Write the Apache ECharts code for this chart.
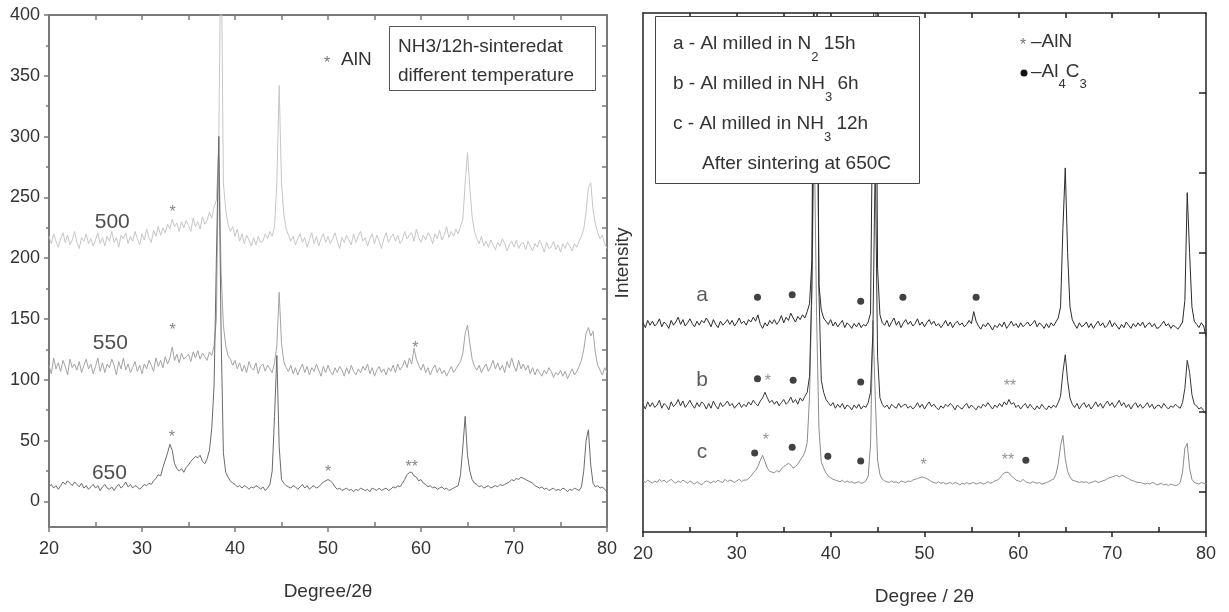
<!DOCTYPE html>
<html><head><meta charset="utf-8">
<script src="https://cdn.jsdelivr.net/npm/echarts@6/dist/echarts.min.js"></script>
<style>html,body{margin:0;padding:0;background:#fff}#c{width:1229px;height:612px}</style>
</head><body><div id="c"></div>
<script>
// 2θ sampling: 20..80 in 0.25° steps (241 points)
const thetaStart = 20, thetaStep = 0.25;

// Left panel: NH3/12h sintered at different temperature
const s500 = [
218,212,220,214, 209,216,221,213, 219,211,215,222, 213,208,217,214, 220,212,216,210,
215,221,212,217, 210,218,214,222, 213,217,209,219, 216,221,212,218, 214,222,216,211,
220,215,224,217, 213,223,218,226, 219,225,221,228, 224,232,226,229, 222,230,225,231,
227,222,233,226, 230,224,234,228, 231,238,233,242, 248,290,480,262, 240,228,222,226,
218,224,214,220, 212,219,215,210, 217,211,218,213, 214,220,216,222, 218,226,262,342,
262,236,224,219, 214,218,211,216, 220,213,217,209, 215,221,212,218, 210,216,220,213,
218,212,216,221, 214,208,217,213, 219,215,211,220, 213,218,222,214, 217,210,216,220,
212,219,214,208, 216,221,213,217, 220,214,219,212, 215,222,216,219, 221,214,224,217,
213,219,215,221, 218,212,220,216, 223,215,219,226, 217,222,218,224, 220,226,232,262,
287,258,234,222, 216,212,218,210, 214,209,215,211, 207,213,210,216, 212,206,211,214,
209,215,208,212, 213,207,214,210, 206,212,209,215, 211,205,213,208, 209,214,207,211,
205,212,208,213, 210,206,212,209, 214,218,224,238, 258,262,240,228, 221,216,219,212,
208];
const s550 = [
112,105,118,109, 114,107,116,111, 104,117,110,113, 108,115,106,112, 117,109,113,105,
111,118,107,114, 106,113,110,117, 112,104,115,109, 118,108,113,106, 110,115,107,112,
105,113,109,116, 112,107,118,111, 116,110,119,113, 118,127,116,121, 114,122,117,119,
121,115,123,118, 124,117,122,119, 116,123,120,128, 150,300,190,145, 128,120,117,112,
116,109,114,107, 112,106,115,110, 108,114,105,111, 113,107,112,109, 106,114,128,172,
130,115,110,107, 112,105,110,104, 109,113,106,111, 104,110,107,113, 108,103,111,106,
112,107,104,110, 106,111,108,103, 110,105,112,107, 104,109,106,111, 108,113,105,110,
103,108,111,106, 109,104,110,107, 112,106,113,108, 111,116,110,118, 113,126,117,112,
108,113,106,110, 104,109,112,106, 110,105,108,103, 107,111,106,109, 112,115,122,138,
145,130,117,111, 108,112,106,110, 113,107,111,116, 109,114,108,112, 106,115,110,118,
111,107,116,109, 113,108,112,105, 110,104,109,106, 103,108,105,110, 107,102,106,104,
108,103,107,101, 105,109,104,107, 111,116,125,138, 143,136,140,122, 112,108,104,110,
106];
const s650 = [
12,14,11,13, 10,13,16,14, 17,15,13,16, 14,12,15,11, 13,10,12,14,
11,13,9,12, 14,11,10,12, 9,12,14,11, 13,16,12,14, 11,13,12,10,
12,14,13,15, 14,17,19,22, 21,28,34,40, 47,42,31,27, 25,27,24,28,
30,33,35,37, 36,38,33,31, 35,42,60,95, 200,300,140,40, 24,20,17,15,
14,12,13,11, 13,12,10,12, 11,13,12,10, 12,9,11,14, 25,70,120,45,
18,15,13,12, 11,13,12,10, 12,14,11,13, 10,12,13,11, 12,14,16,17,
18,17,15,12, 10,11,9,10, 11,9,10,8, 10,9,11,10, 9,10,8,11,
10,9,11,9, 10,11,9,10, 12,11,13,12, 15,18,22,24, 24,21,20,17,
18,15,14,12, 13,11,12,10, 11,12,10,11, 9,10,11,12, 13,22,45,70,
38,25,18,15, 14,12,13,11, 12,13,11,12, 13,12,14,13, 14,15,16,18,
17,19,18,20, 19,18,17,16, 15,13,12,11, 12,10,11,9, 10,11,9,10,
9,11,10,8, 10,9,11,10, 9,12,25,50, 59,30,15,12, 13,11,12,10,
8];

// Right panel: a, b, c after sintering at 650C (arbitrary intensity)
const sA = [
212,206,215,209, 214,208,211,217, 207,213,210,205, 215,209,213,219, 210,216,208,212,
217,211,207,214, 209,215,212,218, 213,207,216,210, 206,214,209,212, 216,210,215,208,
212,218,211,214, 209,216,213,219, 214,222,210,205, 212,208,215,211, 216,210,214,221,
212,219,215,224, 218,213,220,216, 222,218,226,236, 290,760,700,260, 228,218,214,210,
216,208,213,207, 211,215,206,212, 209,205,211,207, 212,206,210,208, 213,224,520,760,
280,222,212,209, 215,207,213,218, 209,214,206,212, 216,210,214,208, 211,217,209,213,
207,212,216,210, 214,208,211,206, 210,215,208,213, 206,211,214,209, 212,207,210,215,
211,226,214,208, 204,210,207,212, 208,203,209,206, 211,207,213,205, 209,214,208,211,
206,212,207,210, 213,208,211,215, 207,212,209,205, 211,206,212,208, 213,218,232,330,
406,300,232,216, 210,205,212,207, 209,213,206,211, 205,210,214,208, 212,206,209,215,
207,212,208,204, 210,206,213,209, 205,211,207,212, 208,213,206,210, 212,207,211,205,
206,210,214,208, 211,205,209,207, 204,208,213,240, 375,300,232,214, 210,206,212,208,
195];
const sB = [
110,104,113,107, 112,106,109,115, 105,111,108,103, 113,107,110,116, 108,114,106,110,
115,109,105,112, 107,113,110,104, 111,105,114,108, 104,112,107,110, 114,108,111,105,
109,112,106,110, 107,113,109,115, 111,108,114,118, 125,118,112,115, 110,114,108,112,
116,110,113,119, 112,116,110,118, 114,120,125,145, 260,600,650,250, 140,125,116,112,
108,112,105,110, 106,111,104,109, 107,103,109,105, 110,104,108,106, 112,125,200,420,
170,118,110,106, 109,104,110,107, 105,111,106,109, 110,105,108,104, 107,112,106,110,
104,109,113,107, 110,106,103,108, 105,110,107,111, 108,103,109,106, 104,108,111,105,
109,106,103,108, 105,110,107,112, 108,104,109,106, 111,107,113,109, 116,110,112,106,
109,104,108,111, 105,110,106,103, 108,104,110,106, 103,108,105,109, 106,112,120,150,
172,140,118,110, 106,111,104,109, 112,106,110,104, 108,113,107,111, 105,110,114,108,
112,106,110,115, 108,112,106,110, 104,109,112,106, 110,105,108,112, 106,110,104,108,
109,105,111,107, 104,108,106,110, 107,105,112,130, 165,150,122,110, 108,104,106,102,
98];
const sC = [
14,12,15,13, 11,14,12,16, 13,15,12,14, 16,13,11,14, 12,15,13,11,
14,12,10,13, 11,9,12,14, 13,11,14,12, 15,13,12,16, 13,15,14,12,
14,16,13,15, 15,17,20,24, 27,32,40,46, 38,30,26,25, 24,27,25,29,
32,34,36,34, 30,32,35,40, 44,50,62,120, 250,450,220,80, 38,30,24,20,
18,16,15,14, 13,15,12,14, 12,13,11,12, 13,11,12,14, 20,60,215,120,
40,22,16,14, 13,12,14,12, 13,11,14,13, 12,14,13,15, 16,17,18,19,
18,17,15,13, 12,11,13,11, 12,10,11,12, 10,12,11,9, 11,10,12,10,
11,12,10,11, 12,10,11,13, 11,12,14,15, 17,21,24,25, 24,20,18,15,
14,13,16,13, 12,11,13,12, 11,12,10,11, 12,13,15,16, 22,35,58,71,
42,26,19,15, 14,13,12,13, 12,13,11,12, 13,14,12,13, 14,15,17,18,
19,20,21,19, 21,20,18,17, 15,14,13,12, 12,11,10,11, 10,12,11,9,
10,11,9,10, 8,10,9,8, 9,12,25,55, 61,30,16,12, 11,10,12,11,
10];

// Sample tags (left panel)
const leftTags = ['500', '550', '650'];
const leftTagX = [26.8, 26.6, 26.5];
const leftTagY = [230, 130.5, 23.5];
// AlN markers (left panel)
const leftStarX = [33.3, 33.3, 33.2, 59.4, 50.0, 59.0];
const leftStarY = [242, 145, 57, 130, 27.5, 32];
const leftStarText = ['*', '*', '*', '*', '*', '**'];

// Right panel tags and markers
const rightTags = ['a', 'b', 'c'];
const rightTagX = [26.3, 26.3, 26.3];
const rightTagY = [247, 140, 50];
const dotX = [32.2, 35.9, 43.2, 47.7, 55.5, 32.2, 36.0, 43.2, 31.9, 35.9, 39.7, 43.2, 60.8];
const dotY = [244, 247, 239, 244, 244, 142, 140, 138, 49, 56, 45, 39, 40];
const rightStarX = [33.3, 59.1, 33.1, 49.9, 58.9];
const rightStarY = [145, 138, 71, 40, 46];
const rightStarText = ['*', '**', '*', '*', '**'];

// Tick values
const xMinor = [25, 35, 45, 55, 65, 75];
const xTop = [25, 30, 35, 40, 45, 50, 55, 60, 65, 70, 75];
const leftYTicks = [0, 50, 100, 150, 200, 250, 300, 350, 400];
const leftYMinor = [25, 75, 125, 175, 225, 275, 325, 375];
const leftYRight = [0, 25, 50, 75, 100, 125, 150, 175, 200, 225, 250, 275, 300, 325, 350, 375];
const rightYTicks = [0, 100, 200, 300, 400, 500];

const pairs = arr => arr.map((v, i) => [thetaStart + i * thetaStep, v]);
const zip = (xs, ys) => xs.map((x, i) => [x, ys[i]]);

const FONT = 'Liberation Sans, Arial, sans-serif';
const LAX = '#7a7a7a', RAX = '#222';

function xAxes(grid, col, w, name) {
  return [
    {gridIndex: grid, type: 'value', min: 20, max: 80, interval: 10, position: 'bottom',
     axisLine: {show: true, onZero: false, lineStyle: {color: col, width: w}},
     axisTick: {show: true, length: 5, lineStyle: {color: col, width: 1.5}},
     axisLabel: {fontSize: 18, color: '#333', margin: 13, fontFamily: FONT},
     splitLine: {show: false},
     name: name, nameLocation: 'middle', nameGap: 55,
     nameTextStyle: {fontSize: 19, color: '#333', fontFamily: FONT}},
    {gridIndex: grid, type: 'value', min: 20, max: 80, position: 'bottom', offset: 0,
     axisLine: {show: false, onZero: false}, axisLabel: {show: false}, splitLine: {show: false},
     axisTick: {show: true, inside: true, length: 5, customValues: xMinor, lineStyle: {color: col, width: 1.5}}},
    {gridIndex: grid, type: 'value', min: 20, max: 80, position: 'top', offset: 0,
     axisLine: {show: true, onZero: false, lineStyle: {color: col, width: w}}, axisLabel: {show: false}, splitLine: {show: false},
     axisTick: {show: true, inside: true, length: 5, customValues: xTop, lineStyle: {color: col, width: 1.5}}}
  ];
}

const option = {
  animation: false,
  backgroundColor: '#fff',
  grid: [
    {left: 49, right: 622, top: 15, bottom: 85, outerBoundsMode: 'none', containLabel: false},
    {left: 643, right: 23, top: 13, bottom: 80, outerBoundsMode: 'none', containLabel: false}
  ],
  xAxis: [...xAxes(0, LAX, 2, 'Degree/2θ'), ...xAxes(1, RAX, 1.5, 'Degree / 2θ')],
  yAxis: [
    {gridIndex: 0, type: 'value', min: -21, max: 400, position: 'left',
     axisLine: {show: true, onZero: false, lineStyle: {color: LAX, width: 2}},
     axisTick: {show: true, length: 5, customValues: leftYTicks, lineStyle: {color: LAX, width: 1.5}},
     axisLabel: {show: true, customValues: leftYTicks, fontSize: 18, color: '#333', margin: 9, fontFamily: FONT},
     splitLine: {show: false}},
    {gridIndex: 0, type: 'value', min: -21, max: 400, position: 'left', offset: 0,
     axisLine: {show: false, onZero: false}, axisLabel: {show: false}, splitLine: {show: false},
     axisTick: {show: true, length: 3, customValues: leftYMinor, lineStyle: {color: LAX, width: 1.5}}},
    {gridIndex: 0, type: 'value', min: -21, max: 400, position: 'right', offset: 0,
     axisLine: {show: true, onZero: false, lineStyle: {color: LAX, width: 2}}, axisLabel: {show: false}, splitLine: {show: false},
     axisTick: {show: true, inside: true, length: 5, customValues: leftYRight, lineStyle: {color: LAX, width: 1.5}}},
    {gridIndex: 1, type: 'value', min: -50, max: 600, position: 'left',
     axisLine: {show: true, onZero: false, lineStyle: {color: RAX, width: 1.5}}, axisTick: {show: false},
     axisLabel: {show: false}, splitLine: {show: false}},
    {gridIndex: 1, type: 'value', min: -50, max: 600, position: 'right', offset: 0,
     axisLine: {show: true, onZero: false, lineStyle: {color: RAX, width: 1.5}}, axisLabel: {show: false}, splitLine: {show: false},
     axisTick: {show: true, inside: true, length: 7, customValues: rightYTicks, lineStyle: {color: RAX, width: 1.5}}}
  ],
  series: [
    {type: 'line', name: '500', xAxisIndex: 0, yAxisIndex: 0, data: pairs(s500), showSymbol: false,
     lineStyle: {color: '#c6c6c6', width: 1}, z: 2},
    {type: 'line', name: '550', xAxisIndex: 0, yAxisIndex: 0, data: pairs(s550), showSymbol: false,
     lineStyle: {color: '#a4a4a4', width: 1}, z: 3},
    {type: 'line', name: '650', xAxisIndex: 0, yAxisIndex: 0, data: pairs(s650), showSymbol: false,
     lineStyle: {color: '#6a6a6a', width: 1}, z: 4},
    {type: 'line', name: 'a', xAxisIndex: 3, yAxisIndex: 3, data: pairs(sA), showSymbol: false,
     lineStyle: {color: '#2a2a2a', width: 1}, z: 4},
    {type: 'line', name: 'b', xAxisIndex: 3, yAxisIndex: 3, data: pairs(sB), showSymbol: false,
     lineStyle: {color: '#363636', width: 1}, z: 3},
    {type: 'line', name: 'c', xAxisIndex: 3, yAxisIndex: 3, data: pairs(sC), showSymbol: false,
     lineStyle: {color: '#8c8c8c', width: 1}, z: 2},
    {type: 'scatter', xAxisIndex: 0, yAxisIndex: 0, symbolSize: 1, itemStyle: {color: 'rgba(0,0,0,0)'},
     data: zip(leftTagX, leftTagY).map((p, i) => ({value: p, name: leftTags[i]})),
     label: {show: true, position: 'inside', formatter: p => p.name, fontSize: 21, color: '#222', fontFamily: FONT}, z: 6},
    {type: 'scatter', xAxisIndex: 0, yAxisIndex: 0, symbolSize: 1, itemStyle: {color: 'rgba(0,0,0,0)'},
     data: zip(leftStarX, leftStarY).map((p, i) => ({value: p, name: leftStarText[i]})),
     label: {show: true, position: 'inside', formatter: p => p.name, fontSize: 16, color: '#666', offset: [0, 5], fontFamily: FONT}, z: 6},
    {type: 'scatter', xAxisIndex: 3, yAxisIndex: 3, symbolSize: 1, itemStyle: {color: 'rgba(0,0,0,0)'},
     data: zip(rightTagX, rightTagY).map((p, i) => ({value: p, name: rightTags[i]})),
     label: {show: true, position: 'inside', formatter: p => p.name, fontSize: 21, color: '#333', fontFamily: FONT}, z: 6},
    {type: 'scatter', xAxisIndex: 3, yAxisIndex: 3, symbol: 'circle', symbolSize: 7,
     itemStyle: {color: '#111'}, data: zip(dotX, dotY), z: 6},
    {type: 'scatter', xAxisIndex: 3, yAxisIndex: 3, symbolSize: 1, itemStyle: {color: 'rgba(0,0,0,0)'},
     data: zip(rightStarX, rightStarY).map((p, i) => ({value: p, name: rightStarText[i]})),
     label: {show: true, position: 'inside', formatter: p => p.name, fontSize: 16, color: '#777', offset: [0, 5], fontFamily: FONT}, z: 6}
  ],
  graphic: [
    {type: 'rect', z: 100, shape: {x: 389.5, y: 26.5, width: 206, height: 64},
     style: {fill: '#fff', stroke: '#555', lineWidth: 1}},
    {type: 'text', z: 101, x: 398, y: 47, style: {text: 'NH3/12h-sinteredat', fontSize: 19, fontFamily: FONT, fill: '#333', textAlign: 'left', textVerticalAlign: 'middle', verticalAlign: 'middle'}},
    {type: 'text', z: 101, x: 398, y: 76, style: {text: 'different temperature', fontSize: 19, fontFamily: FONT, fill: '#333', textAlign: 'left', textVerticalAlign: 'middle', verticalAlign: 'middle'}},
    {type: 'text', z: 101, x: 327, y: 64, style: {text: '*', fontSize: 16, fontFamily: FONT, fill: '#777', textAlign: 'center', textVerticalAlign: 'middle', verticalAlign: 'middle'}},
    {type: 'text', z: 101, x: 341, y: 60, style: {text: 'AlN', fontSize: 19, fontFamily: FONT, fill: '#333', textAlign: 'left', textVerticalAlign: 'middle', verticalAlign: 'middle'}},

    {type: 'rect', z: 100, shape: {x: 655.5, y: 16.5, width: 264, height: 167},
     style: {fill: '#fff', stroke: '#444', lineWidth: 1}},
    {type: 'text', z: 101, x: 673, y: 44, style: {text: 'a - Al milled in N{sub|2} 15h', fontSize: 19, fontFamily: FONT, fill: '#333', textAlign: 'left', textVerticalAlign: 'middle', verticalAlign: 'middle',
      rich: {sub: {fontSize: 13, fontFamily: FONT, fill: '#333', padding: [26, 0, 0, 0]}}}},
    {type: 'text', z: 101, x: 673, y: 84, style: {text: 'b - Al milled in NH{sub|3} 6h', fontSize: 19, fontFamily: FONT, fill: '#333', textAlign: 'left', textVerticalAlign: 'middle', verticalAlign: 'middle',
      rich: {sub: {fontSize: 13, fontFamily: FONT, fill: '#333', padding: [26, 0, 0, 0]}}}},
    {type: 'text', z: 101, x: 673, y: 124, style: {text: 'c - Al milled in NH{sub|3} 12h', fontSize: 19, fontFamily: FONT, fill: '#333', textAlign: 'left', textVerticalAlign: 'middle', verticalAlign: 'middle',
      rich: {sub: {fontSize: 13, fontFamily: FONT, fill: '#333', padding: [26, 0, 0, 0]}}}},
    {type: 'text', z: 101, x: 702, y: 164, style: {text: 'After sintering at 650C', fontSize: 19, fontFamily: FONT, fill: '#333', textAlign: 'left', textVerticalAlign: 'middle', verticalAlign: 'middle'}},

    {type: 'text', z: 101, x: 1023, y: 46, style: {text: '*', fontSize: 16, fontFamily: FONT, fill: '#777', textAlign: 'center', textVerticalAlign: 'middle', verticalAlign: 'middle'}},
    {type: 'text', z: 101, x: 1031, y: 42, style: {text: '–AlN', fontSize: 19, fontFamily: FONT, fill: '#333', textAlign: 'left', textVerticalAlign: 'middle', verticalAlign: 'middle'}},
    {type: 'circle', z: 101, shape: {cx: 1024, cy: 73, r: 3.5}, style: {fill: '#111'}},
    {type: 'text', z: 101, x: 1031, y: 72, style: {text: '–Al{sub|4}C{sub|3}', fontSize: 19, fontFamily: FONT, fill: '#333', textAlign: 'left', textVerticalAlign: 'middle', verticalAlign: 'middle',
      rich: {sub: {fontSize: 13, fontFamily: FONT, fill: '#333', padding: [24, 0, 0, 0]}}}},

    {type: 'text', z: 101, x: 623, y: 263, rotation: Math.PI / 2, style: {text: 'Intensity', fontSize: 19, fontFamily: FONT, fill: '#333', textAlign: 'center', textVerticalAlign: 'middle', verticalAlign: 'middle'}}
  ]
};

const chart = echarts.init(document.getElementById('c'), null, {renderer: 'canvas'});
chart.setOption(option);
</script>
</body></html>
